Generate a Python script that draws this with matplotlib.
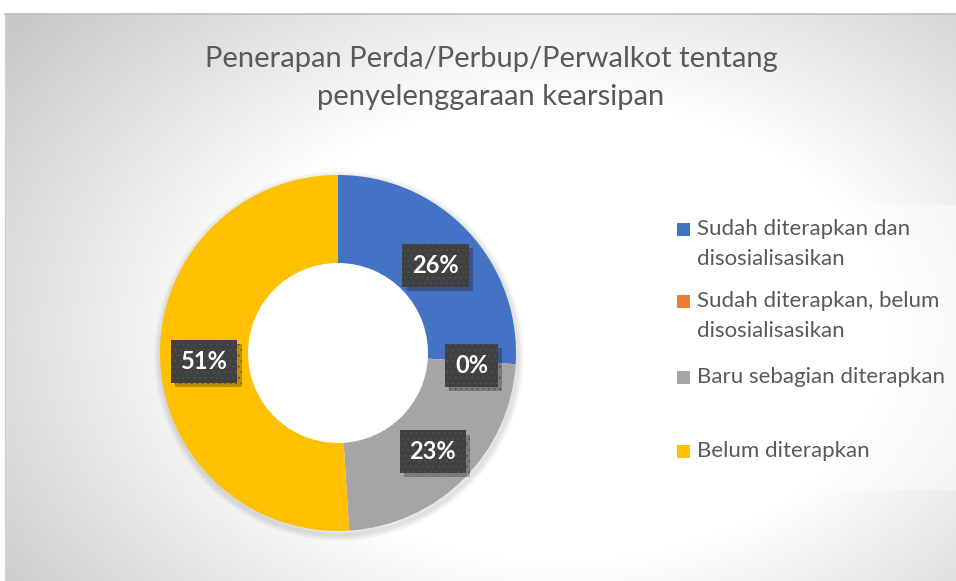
import numpy as np
import matplotlib.pyplot as plt
import matplotlib.patheffects as pe
from matplotlib.patches import Rectangle, Wedge

plt.rcParams["font.family"] = ["Lato", "DejaVu Sans"]
plt.rcParams["hatch.linewidth"] = 0.6

title = "Penerapan Perda/Perbup/Perwalkot tentang\npenyelenggaraan kearsipan"
categories = [
    "Sudah diterapkan dan\ndisosialisasikan",
    "Sudah diterapkan, belum\ndisosialisasikan",
    "Baru sebagian diterapkan",
    "Belum diterapkan",
]
shares = [26, 0, 23, 51]
colors = ["#4472C4", "#ED7D31", "#A5A5A5", "#FFC000"]

W, H = 956, 581
fig = plt.figure(figsize=(W / 100, H / 100), dpi=100)
ax = fig.add_axes([0, 0, 1, 1])

# chart area background: soft radial grey gradient
left, top = 5, 14
yy, xx = np.mgrid[top:H, left:W]
t = np.sqrt(((xx - 560) / 600.0) ** 2 + ((yy - 330) / 420.0) ** 2)
shade = 255 - np.clip(90 * (t - 0.55), 0, 70)
img = np.dstack([shade, shade, shade]) / 255.0
ax.imshow(img, extent=(left, W, 0, H - top), origin="upper", aspect="auto", zorder=0)
ax.plot([left, W], [H - top, H - top], color="#bdbdbd", lw=1.2, zorder=1)
ax.plot([left, left], [0, H - top], color="#d0d0d0", lw=0.8, zorder=1)

# donut
cx, cy, r_out, ring = 338, H - 353, 178, 88
for k in range(6):
    ax.add_patch(Wedge((cx + 1, cy - 3), r_out + 2 + k, 0, 360, width=8,
                       color="black", alpha=0.02, lw=0, zorder=1))
wedges, _ = ax.pie(
    shares,
    colors=colors,
    startangle=90,
    counterclock=False,
    center=(cx, cy),
    radius=r_out,
    wedgeprops=dict(width=ring, linewidth=0),
    frame=True,
)
ax.set_xlim(0, W)
ax.set_ylim(0, H)
ax.set_aspect("equal")
ax.axis("off")
for w in wedges:
    w.set_zorder(2)

r_mid = r_out - ring / 2
for w, v in zip(wedges, shares):
    ang = np.deg2rad((w.theta1 + w.theta2) / 2)
    x = cx + r_mid * np.cos(ang)
    y = cy + r_mid * np.sin(ang) - 4
    txt = ax.text(x, y, f"{v}%", fontsize=17, fontweight="bold", color="white",
                  ha="center", va="center", zorder=4,
                  bbox=dict(boxstyle="square,pad=0.42", fc="#404040", ec="#525252",
                            hatch="...", lw=0))
    txt.get_bbox_patch().set_path_effects(
        [pe.SimplePatchShadow(offset=(3, -3), shadow_rgbFace="black", alpha=0.25),
         pe.Normal()])

# title
ax.text(491, H - 78, title, ha="center", va="center", fontsize=21,
        color="#595959", linespacing=1.55, zorder=5)

# legend panel
ax.add_patch(Rectangle((663, H - 490), W - 663, 285, fc="white", alpha=0.45,
                       lw=0, zorder=2))
legend_y = [229, 301, 377, 451]
for lab, col, ly in zip(categories, colors, legend_y):
    ax.add_patch(Rectangle((677, H - ly - 6.5), 13, 13, fc=col, lw=0, zorder=5))
    ax.text(697, H - ly + 10, lab, ha="left", va="top", fontsize=16,
            color="#595959", linespacing=1.62, zorder=5)

fig.savefig("out.png", dpi=100)
